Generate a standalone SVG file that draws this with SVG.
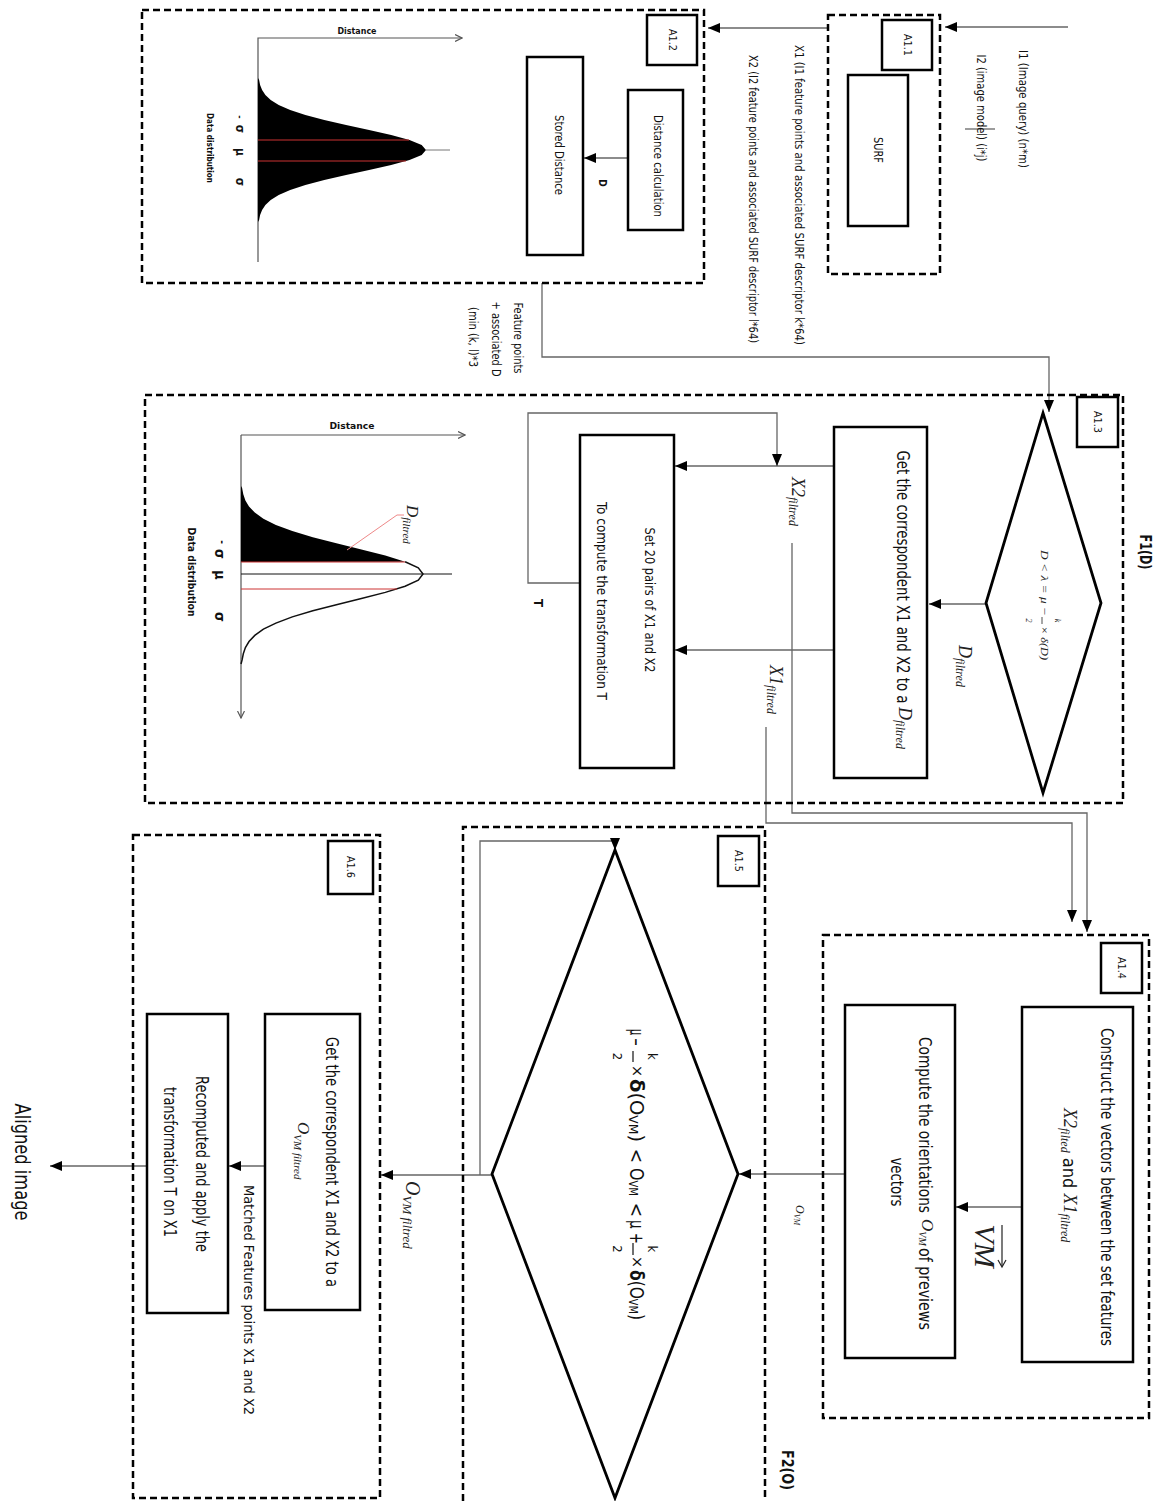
<svg xmlns="http://www.w3.org/2000/svg" width="1166" height="1501" viewBox="0 0 1166 1501">
<style>
.box{fill:#fff;stroke:#000;stroke-width:2.5}
.grp{fill:none;stroke:#000;stroke-width:2.5;stroke-dasharray:7 4}
.dia{fill:#fff;stroke:#000;stroke-width:2.8}
.con{fill:none;stroke:#666;stroke-width:1.3}
.ax{fill:none;stroke:#555;stroke-width:1.2}
.t{font-family:"Liberation Sans Narrow","DejaVu Sans Condensed","Liberation Sans",sans-serif;fill:#111}
.m{font-family:"Liberation Serif","DejaVu Serif",serif;font-style:italic;fill:#222}
.b{font-weight:bold}
</style>
<defs>
<marker id="ah" viewBox="0 0 12 10" refX="12" refY="5" markerWidth="12" markerHeight="10" markerUnits="userSpaceOnUse" orient="auto"><path d="M0,0 L12,5 L0,10 Z" fill="#000"/></marker>
<marker id="oa" viewBox="0 0 8 8" refX="7" refY="4" markerWidth="8" markerHeight="8" markerUnits="userSpaceOnUse" orient="auto"><path d="M0,0.5 L7,4 L0,7.5" fill="none" stroke="#555" stroke-width="1.2"/></marker>
</defs>

<!-- connectors -->
<g id="connectors">
<path class="con" d="M1068,27 H945" marker-end="url(#ah)"/>
<path class="con" d="M828,28 H708" marker-end="url(#ah)"/>
<path class="con" d="M628,158 H584" marker-end="url(#ah)"/>
<path class="con" d="M542,283 V357 H1049 V412" marker-end="url(#ah)"/>
<path class="con" d="M986,604 H929" marker-end="url(#ah)"/>
<path class="con" d="M834,466 H675" marker-end="url(#ah)"/>
<path class="con" d="M834,650 H675" marker-end="url(#ah)"/>
<path class="con" d="M580,583 H528 V413 H777 V466" marker-end="url(#ah)"/>
<path class="con" d="M792,543 V813 H1087 V932" marker-end="url(#ah)"/>
<path class="con" d="M766,727 V823 H1072 V922" marker-end="url(#ah)"/>
<path class="con" d="M1022,1207 H956" marker-end="url(#ah)"/>
<path class="con" d="M845,1174 H739" marker-end="url(#ah)"/>
<path class="con" d="M492,1175 H381" marker-end="url(#ah)"/>
<path class="con" d="M480,1175 V841 H615 V850" marker-end="url(#ah)"/>
<path class="con" d="M265,1166 H229" marker-end="url(#ah)"/>
<path class="con" d="M147,1166 H50" marker-end="url(#ah)"/>
<path class="con" d="M965,129 H995" stroke-width="1"/>
</g>

<!-- A1.1 -->
<g id="A1_1">
<rect class="grp" x="828" y="15" width="112" height="259"/>
<rect class="box" x="882" y="20" width="50" height="50"/>
<text class="t" transform="translate(907,45) rotate(90)" text-anchor="middle" dominant-baseline="central" font-size="10" textLength="22" lengthAdjust="spacingAndGlyphs">A1.1</text>
<rect class="box" x="848" y="75" width="60" height="151"/>
<text class="t" transform="translate(878,150) rotate(90)" text-anchor="middle" dominant-baseline="central" font-size="12" textLength="26" lengthAdjust="spacingAndGlyphs">SURF</text>
</g>

<g id="inputs">
<text class="t" transform="translate(1023,109) rotate(90)" text-anchor="middle" dominant-baseline="central" font-size="13" textLength="118" lengthAdjust="spacingAndGlyphs">I1 (Image query) (n*m)</text>
<text class="t" transform="translate(981,108) rotate(90)" text-anchor="middle" dominant-baseline="central" font-size="13" textLength="107" lengthAdjust="spacingAndGlyphs">I2 (image model) (i*j)</text>
<text class="t" transform="translate(799,195) rotate(90)" text-anchor="middle" dominant-baseline="central" font-size="13" textLength="300" lengthAdjust="spacingAndGlyphs">X1 (I1 feature points and associated SURF descriptor k*64)</text>
<text class="t" transform="translate(753,199) rotate(90)" text-anchor="middle" dominant-baseline="central" font-size="13" textLength="288" lengthAdjust="spacingAndGlyphs">X2 (I2 feature points and associated SURF descriptor l*64)</text>
<text class="t" transform="translate(518,338) rotate(90)" text-anchor="middle" dominant-baseline="central" font-size="13" textLength="71" lengthAdjust="spacingAndGlyphs">Feature points</text>
<text class="t" transform="translate(496,339) rotate(90)" text-anchor="middle" dominant-baseline="central" font-size="13" textLength="75" lengthAdjust="spacingAndGlyphs">+ associated D</text>
<text class="t" transform="translate(473,337) rotate(90)" text-anchor="middle" dominant-baseline="central" font-size="13" textLength="60" lengthAdjust="spacingAndGlyphs">(min (k, l)*3</text>
</g>

<!-- A1.2 -->
<g id="A1_2">
<rect class="grp" x="142" y="10" width="562" height="273"/>
<rect class="box" x="647" y="15" width="50" height="50"/>
<text class="t" transform="translate(672,40) rotate(90)" text-anchor="middle" dominant-baseline="central" font-size="10" textLength="22" lengthAdjust="spacingAndGlyphs">A1.2</text>
<rect class="box" x="628" y="90" width="55" height="140"/>
<text class="t" transform="translate(658,166) rotate(90)" text-anchor="middle" dominant-baseline="central" font-size="13" textLength="102" lengthAdjust="spacingAndGlyphs">Distance calculation</text>
<rect class="box" x="527" y="57" width="56" height="198"/>
<text class="t" transform="translate(559,155) rotate(90)" text-anchor="middle" dominant-baseline="central" font-size="13" textLength="80" lengthAdjust="spacingAndGlyphs">Stored Distance</text>
<text class="t b" transform="translate(602,183) rotate(90)" text-anchor="middle" dominant-baseline="central" font-size="10">D</text>
</g>

<g id="chart1">
<path class="ax" d="M258,262 V38 H462" marker-end="url(#oa)"/>
<polygon fill="#000" points="258,78 259.1,80 260.1,85 262.1,90 265.4,95 270.7,100 278.7,105 290.2,110 305.4,115 324.3,120 346.1,125 369.1,130 391.2,135 409.5,140 421.7,145 426,150 421.7,155 409.5,160 391.2,165 369.1,170 346.1,175 324.3,180 305.4,185 290.2,190 278.7,195 270.7,200 265.4,205 262.1,210 260.1,215 259.1,220 258,222"/>
<line x1="258" y1="140" x2="409" y2="140" stroke="#c33" stroke-width="1"/>
<line x1="258" y1="161" x2="406" y2="161" stroke="#c33" stroke-width="1"/>
<line x1="426" y1="150" x2="450" y2="150" stroke="#777" stroke-width="1"/>
<text class="t b" x="357" y="34" text-anchor="middle" font-size="8" textLength="39" lengthAdjust="spacingAndGlyphs">Distance</text>
<text class="t b" transform="translate(209,148) rotate(90)" text-anchor="middle" dominant-baseline="central" font-size="8" textLength="70" lengthAdjust="spacingAndGlyphs">Data distribution</text>
<text class="t b" transform="translate(240,117) rotate(90)" text-anchor="middle" dominant-baseline="central" font-size="9">-</text>
<text class="t b" transform="translate(240,129) rotate(90)" text-anchor="middle" dominant-baseline="central" font-size="12">σ</text>
<text class="t b" transform="translate(240,152) rotate(90)" text-anchor="middle" dominant-baseline="central" font-size="12">μ</text>
<text class="t b" transform="translate(240,182) rotate(90)" text-anchor="middle" dominant-baseline="central" font-size="12">σ</text>
</g>

<!-- A1.3 -->
<g id="A1_3">
<rect class="grp" x="145" y="395" width="978" height="408"/>
<rect class="box" x="1077" y="397" width="41" height="50"/>
<text class="t" transform="translate(1097,422) rotate(90)" text-anchor="middle" dominant-baseline="central" font-size="10" textLength="22" lengthAdjust="spacingAndGlyphs">A1.3</text>
<text class="t b" transform="translate(1145,552) rotate(90)" text-anchor="middle" dominant-baseline="central" font-size="16" textLength="35" lengthAdjust="spacingAndGlyphs">F1(D)</text>
</g>

<g id="decision1">
<polygon class="dia" points="1043,413 1101,603 1043,793 986,603"/>
<g transform="translate(1043,603) rotate(90)">
<text class="m" x="-53" y="-2" dominant-baseline="central" font-size="11" textLength="66" lengthAdjust="spacingAndGlyphs">D &lt; λ = μ −</text>
<text class="m" x="17.5" y="-14" text-anchor="middle" dominant-baseline="central" font-size="8">k</text>
<line x1="14" y1="1" x2="21" y2="1" stroke="#222" stroke-width="0.8"/>
<text class="m" x="17.5" y="15" text-anchor="middle" dominant-baseline="central" font-size="8">2</text>
<text class="m" x="23" y="-2" dominant-baseline="central" font-size="11" textLength="34" lengthAdjust="spacingAndGlyphs">× δ(D)</text>
</g>
<text class="m" transform="translate(965,645) rotate(90)" dominant-baseline="central" font-size="18">D<tspan font-size="12" dy="5">filtred</tspan></text>
</g>

<g id="get1">
<rect class="box" x="834" y="427" width="93" height="351"/>
<text class="t" transform="translate(903,577) rotate(90)" text-anchor="middle" dominant-baseline="central" font-size="18" textLength="253" lengthAdjust="spacingAndGlyphs">Get the correspondent X1 and X2 to a</text>
<text class="m" transform="translate(905,707) rotate(90)" dominant-baseline="central" font-size="18">D<tspan font-size="12" dy="5">filtred</tspan></text>
</g>

<g id="xlabels">
<text class="m" transform="translate(798,477) rotate(90)" dominant-baseline="central" font-size="18">X2<tspan font-size="12" dy="5">filtred</tspan></text>
<text class="m" transform="translate(776,665) rotate(90)" dominant-baseline="central" font-size="18">X1<tspan font-size="12" dy="5">filtred</tspan></text>
</g>

<g id="set20">
<rect class="box" x="580" y="435" width="94" height="333"/>
<text class="t" transform="translate(650,600) rotate(90)" text-anchor="middle" dominant-baseline="central" font-size="14" textLength="145" lengthAdjust="spacingAndGlyphs">Set 20 pairs of X1 and X2</text>
<text class="t" transform="translate(602,601) rotate(90)" text-anchor="middle" dominant-baseline="central" font-size="14" textLength="198" lengthAdjust="spacingAndGlyphs">To compute the transformation T</text>
<text class="t b" transform="translate(538,603) rotate(90)" text-anchor="middle" dominant-baseline="central" font-size="13">T</text>
</g>

<g id="chart2">
<path class="ax" d="M241,435 H465" marker-end="url(#oa)"/>
<path class="ax" d="M241,435 V718" marker-end="url(#oa)"/>
<polygon fill="#000" points="241,486 242.1,488.1 243.3,494.2 245.4,500.4 249.0,506.5 254.8,512.6 263.4,518.8 275.9,524.9 292.3,531.1 312.8,537.2 336.4,543.3 361.4,549.5 385.3,555.6 405.1,561.7 241,562"/>
<polyline fill="none" stroke="#111" stroke-width="1.5" points="405.1,561.7 418.3,567.9 423,574 418.3,580.1 405.1,586.3 385.3,592.4 361.4,598.5 336.4,604.7 312.8,610.8 292.3,616.9 275.9,623.1 263.4,629.2 254.8,635.4 249.0,641.5 245.4,647.6 243.3,653.8 242.1,659.9 241,664"/>
<line x1="241" y1="562" x2="405" y2="562" stroke="#c33" stroke-width="1"/>
<line x1="241" y1="589" x2="397" y2="589" stroke="#c33" stroke-width="1"/>
<line x1="241" y1="574" x2="452" y2="574" stroke="#111" stroke-width="1"/>
<polyline fill="none" stroke="#e88" stroke-width="1" points="347,550 397,515 404,515"/>
<text class="m" transform="translate(412,505) rotate(90)" dominant-baseline="central" font-size="17">D<tspan font-size="11" dy="5">filtred</tspan></text>
<text class="t b" x="352" y="429" text-anchor="middle" font-size="9" textLength="45" lengthAdjust="spacingAndGlyphs">Distance</text>
<text class="t b" transform="translate(191,572) rotate(90)" text-anchor="middle" dominant-baseline="central" font-size="10" textLength="89" lengthAdjust="spacingAndGlyphs">Data distribution</text>
<text class="t b" transform="translate(222,542) rotate(90)" text-anchor="middle" dominant-baseline="central" font-size="10">-</text>
<text class="t b" transform="translate(220,554) rotate(90)" text-anchor="middle" dominant-baseline="central" font-size="14">σ</text>
<text class="t b" transform="translate(220,575) rotate(90)" text-anchor="middle" dominant-baseline="central" font-size="14">μ</text>
<text class="t b" transform="translate(220,617) rotate(90)" text-anchor="middle" dominant-baseline="central" font-size="14">σ</text>
</g>

<!-- A1.4 -->
<g id="A1_4">
<rect class="grp" x="823" y="935" width="326" height="483"/>
<rect class="box" x="1101" y="943" width="41" height="50"/>
<text class="t" transform="translate(1121,968) rotate(90)" text-anchor="middle" dominant-baseline="central" font-size="10" textLength="22" lengthAdjust="spacingAndGlyphs">A1.4</text>
</g>

<g id="construct">
<rect class="box" x="1022" y="1007" width="111" height="355"/>
<text class="t" transform="translate(1107,1187) rotate(90)" text-anchor="middle" dominant-baseline="central" font-size="18" textLength="318" lengthAdjust="spacingAndGlyphs">Construct the vectors between the set features</text>
<text transform="translate(1070,1108) rotate(90)" dominant-baseline="central" font-size="18"><tspan class="m">X2</tspan><tspan class="m" font-size="12" dy="5">filted</tspan><tspan class="t" dy="-5"> and </tspan><tspan class="m">X1</tspan><tspan class="m" font-size="12" dy="5">filtred</tspan></text>
</g>

<g id="vm">
<g transform="translate(985,1246) rotate(90)">
<text class="m" x="0" y="0" text-anchor="middle" dominant-baseline="central" font-size="30">VM</text>
<line x1="-21" y1="-17" x2="20" y2="-17" stroke="#222" stroke-width="1.2"/>
<path d="M14,-21 L21,-17 L14,-13" fill="none" stroke="#222" stroke-width="1.2"/>
</g>
</g>

<g id="compute">
<rect class="box" x="845" y="1005" width="110" height="353"/>
<text class="t" transform="translate(925,1125) rotate(90)" text-anchor="middle" dominant-baseline="central" font-size="18" textLength="176" lengthAdjust="spacingAndGlyphs">Compute the orientations</text>
<text class="m" transform="translate(927,1219) rotate(90)" dominant-baseline="central" font-size="17">O<tspan font-size="10" dy="4">VM</tspan></text>
<text class="t" transform="translate(925,1289) rotate(90)" text-anchor="middle" dominant-baseline="central" font-size="18" textLength="82" lengthAdjust="spacingAndGlyphs">of previews</text>
<text class="t" transform="translate(897,1182) rotate(90)" text-anchor="middle" dominant-baseline="central" font-size="18" textLength="49" lengthAdjust="spacingAndGlyphs">vectors</text>
</g>
<text class="m" transform="translate(800,1205) rotate(90)" dominant-baseline="central" font-size="12">O<tspan font-size="8" dy="3">VM</tspan></text>

<!-- A1.5 -->
<g id="A1_5">
<path class="grp" d="M463,1501 V827 H765 V1501"/>
<rect class="box" x="718" y="836" width="41" height="50"/>
<text class="t" transform="translate(738,861) rotate(90)" text-anchor="middle" dominant-baseline="central" font-size="10" textLength="22" lengthAdjust="spacingAndGlyphs">A1.5</text>
<text class="t b" transform="translate(787,1470) rotate(90)" text-anchor="middle" dominant-baseline="central" font-size="16" textLength="40" lengthAdjust="spacingAndGlyphs">F2(O)</text>
</g>

<g id="decision2">
<polygon class="dia" points="615,850 738,1174 615,1498 492,1174"/>
<g transform="translate(637,1174) rotate(90)" class="t">
<text x="-145" y="0" dominant-baseline="central" font-size="19" textLength="17" lengthAdjust="spacingAndGlyphs">μ −</text>
<text x="-117.5" y="-15" text-anchor="middle" dominant-baseline="central" font-size="13">k</text>
<line x1="-123" y1="4" x2="-112" y2="4" stroke="#111" stroke-width="1.2"/>
<text x="-117.5" y="20" text-anchor="middle" dominant-baseline="central" font-size="13">2</text>
<text x="-103" y="0" text-anchor="middle" dominant-baseline="central" font-size="16">×</text>
<text x="-95" y="0" dominant-baseline="central" font-size="19" textLength="63" lengthAdjust="spacingAndGlyphs"><tspan font-weight="bold">δ</tspan>(O<tspan font-size="12" dy="4">VM</tspan><tspan dy="-4">)</tspan></text>
<text x="-18" y="0" text-anchor="middle" dominant-baseline="central" font-size="19">&lt;</text>
<text x="-6" y="0" dominant-baseline="central" font-size="19" textLength="28" lengthAdjust="spacingAndGlyphs">O<tspan font-size="12" dy="4">VM</tspan></text>
<text x="36" y="0" text-anchor="middle" dominant-baseline="central" font-size="19">&lt;</text>
<text x="46" y="0" dominant-baseline="central" font-size="19" textLength="24" lengthAdjust="spacingAndGlyphs">μ +</text>
<text x="75" y="-15" text-anchor="middle" dominant-baseline="central" font-size="13">k</text>
<line x1="69" y1="4" x2="81" y2="4" stroke="#111" stroke-width="1.2"/>
<text x="75" y="20" text-anchor="middle" dominant-baseline="central" font-size="13">2</text>
<text x="88" y="0" text-anchor="middle" dominant-baseline="central" font-size="16">×</text>
<text x="96" y="0" dominant-baseline="central" font-size="19" textLength="50" lengthAdjust="spacingAndGlyphs"><tspan font-weight="bold">δ</tspan>(O<tspan font-size="12" dy="4">VM</tspan><tspan dy="-4">)</tspan></text>
</g>
</g>
<text class="m" transform="translate(413,1181) rotate(90)" dominant-baseline="central" font-size="20">O<tspan font-size="13" dy="5">VM filtred</tspan></text>

<!-- A1.6 -->
<g id="A1_6">
<rect class="grp" x="133" y="835" width="247" height="663"/>
<rect class="box" x="328" y="841" width="45" height="53"/>
<text class="t" transform="translate(350,867) rotate(90)" text-anchor="middle" dominant-baseline="central" font-size="10" textLength="22" lengthAdjust="spacingAndGlyphs">A1.6</text>
</g>

<g id="get2">
<rect class="box" x="265" y="1014" width="95" height="296"/>
<text class="t" transform="translate(332,1162) rotate(90)" text-anchor="middle" dominant-baseline="central" font-size="17" textLength="250" lengthAdjust="spacingAndGlyphs">Get the correspondent X1 and X2 to a</text>
<text class="m" transform="translate(303,1122) rotate(90)" dominant-baseline="central" font-size="17">O<tspan font-size="11" dy="5">VM filtred</tspan></text>
</g>
<text class="t" transform="translate(249,1300) rotate(90)" text-anchor="middle" dominant-baseline="central" font-size="14" textLength="230" lengthAdjust="spacingAndGlyphs">Matched Features points X1 and X2</text>

<g id="recompute">
<rect class="box" x="147" y="1014" width="81" height="299"/>
<text class="t" transform="translate(202,1164) rotate(90)" text-anchor="middle" dominant-baseline="central" font-size="17" textLength="176" lengthAdjust="spacingAndGlyphs">Recomputed and apply the</text>
<text class="t" transform="translate(170,1162) rotate(90)" text-anchor="middle" dominant-baseline="central" font-size="17" textLength="150" lengthAdjust="spacingAndGlyphs">transformation T on X1</text>
</g>

<g id="output">
<text class="t" transform="translate(22,1162) rotate(90)" text-anchor="middle" dominant-baseline="central" font-size="21" textLength="117" lengthAdjust="spacingAndGlyphs">Aligned image</text>
</g>
</svg>
